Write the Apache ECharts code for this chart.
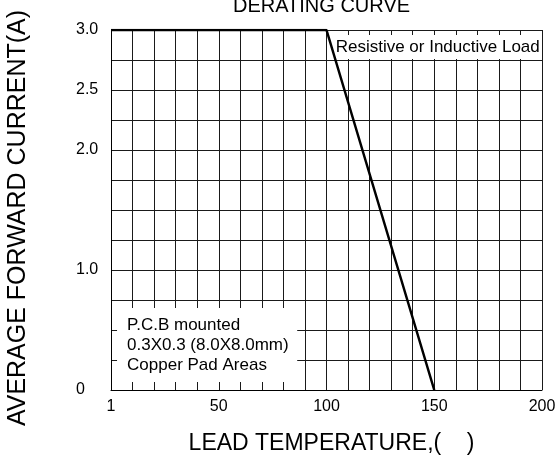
<!DOCTYPE html>
<html>
<head>
<meta charset="utf-8">
<script src="https://cdn.jsdelivr.net/npm/echarts@6/dist/echarts.min.js"></script>
<style>
  html, body { margin: 0; padding: 0; background: #fff; }
  #chart { width: 555px; height: 459px; }
</style>
</head>
<body>
<div id="chart"></div>
<script>
// curve points: lead temperature vs average forward current
const temps = [0, 100, 150];
const currents = [3.0, 3.0, 0];

// tick labels that are printed (others left blank)
const xTickLabels = { 0: '1', 50: '50', 100: '100', 150: '150', 200: '200' };
const yTickLabels = { 0: '0', 1: '1.0', 2: '2.0', 2.5: '2.5', 3: '3.0' };

const loadNote = 'Resistive or Inductive Load';
const pcbNote = ['P.C.B mounted', '0.3X0.3 (8.0X8.0mm)', 'Copper Pad Areas'];

const font = "'Liberation Sans', Arial, sans-serif";
const chart = echarts.init(document.getElementById('chart'));

const option = {
  animation: false,
  title: {
    text: 'DERATING CURVE',
    left: 233,
    top: -4,
    padding: 0,
    textStyle: { fontFamily: font, fontSize: 20, fontWeight: 'normal', color: '#000' }
  },
  grid: { left: 111, right: 13, top: 30, bottom: 69, outerBoundsMode: 'none', containLabel: false },
  xAxis: {
    type: 'value',
    min: 0,
    max: 200,
    interval: 10,
    name: 'LEAD TEMPERATURE,(    )',
    nameLocation: 'middle',
    nameGap: 42,
    nameTextStyle: { fontFamily: font, fontSize: 23, color: '#000', padding: [0, 0, 0, 10] },
    axisLine: { lineStyle: { color: '#000', width: 1 } },
    axisTick: { show: false },
    axisLabel: {
      margin: 9,
      fontFamily: font,
      fontSize: 16,
      color: '#000',
      formatter: v => xTickLabels[v] || ''
    },
    splitLine: { show: true, lineStyle: { color: '#1a1a1a', width: 1 } }
  },
  yAxis: {
    type: 'value',
    min: 0,
    max: 3,
    interval: 0.25,
    name: 'AVERAGE FORWARD CURRENT(A)',
    nameLocation: 'middle',
    nameGap: 80,
    nameTextStyle: { fontFamily: font, fontSize: 25, color: '#000', padding: [0, 16, 0, 0] },
    axisLine: { lineStyle: { color: '#000', width: 1 } },
    axisTick: { show: false },
    axisLabel: {
      margin: 35,
      align: 'left',
      fontFamily: font,
      fontSize: 16,
      color: '#000',
      formatter: v => yTickLabels[v] || ''
    },
    splitLine: { show: true, lineStyle: { color: '#1a1a1a', width: 1 } }
  },
  series: [
    {
      // white note boxes over the grid
      type: 'line',
      data: [],
      z: 1,
      silent: true,
      markArea: {
        silent: true,
        itemStyle: { color: '#fff', opacity: 1 },
        data: [
          [
            {
              xAxis: 101, yAxis: 2.958,
              label: {
                show: true,
                position: 'insideLeft',
                distance: 7,
                formatter: loadNote,
                fontFamily: font,
                fontSize: 17,
                color: '#000'
              }
            },
            { xAxis: 199.7, yAxis: 2.758 }
          ],
          [
            {
              xAxis: 2.8, yAxis: 0.683,
              label: {
                show: true,
                position: 'insideLeft',
                distance: 10,
                formatter: pcbNote.join('\n'),
                fontFamily: font,
                fontSize: 17,
                lineHeight: 20,
                color: '#000'
              }
            },
            { xAxis: 86.4, yAxis: 0.067 }
          ]
        ]
      }
    },
    {
      type: 'line',
      z: 3,
      data: temps.map((t, i) => [t, currents[i]]),
      symbol: 'none',
      lineStyle: { color: '#000', width: 2.5 }
    }
  ]
};

chart.setOption(option);
</script>
</body>
</html>
